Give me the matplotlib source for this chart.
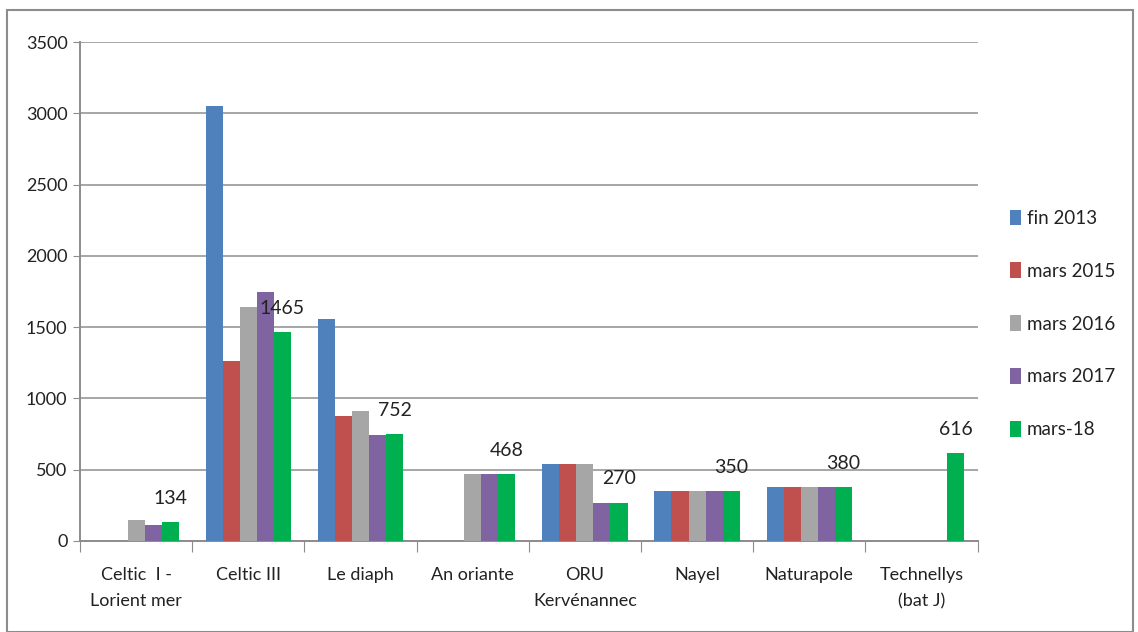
"""Grouped bars per site, five survey dates, labels on the latest one."""
import matplotlib

matplotlib.use("Agg")
import matplotlib.pyplot as plt
import numpy as np
from matplotlib.patches import Rectangle

plt.rcParams["font.family"] = ["Lato", "DejaVu Sans"]

SITES = ["Celtic  I -\nLorient mer", "Celtic III", "Le diaph", "An oriante",
         "ORU\nKervénannec", "Nayel", "Naturapole", "Technellys\n(bat J)"]
SERIES = ["fin 2013", "mars 2015", "mars 2016", "mars 2017", "mars-18"]
COLORS = ["#4F81BD", "#C0504D", "#A6A6A6", "#8064A2", "#00B050"]

nan = np.nan
fin_2013 = [nan, 3050, 1555, nan, 540, 350, 380, nan]
mars_2015 = [nan, 1260, 880, nan, 540, 350, 380, nan]
mars_2016 = [145, 1640, 910, 468, 540, 350, 380, nan]
mars_2017 = [115, 1750, 740, 468, 270, 350, 380, nan]
mars_18 = [134, 1465, 752, 468, 270, 350, 380, 616]
VALUES = [fin_2013, mars_2015, mars_2016, mars_2017, mars_18]

fig = plt.figure(figsize=(11.38, 6.32), dpi=100)
fig.patches.append(Rectangle((0.006, 0.0), 0.99, 0.984, transform=fig.transFigure,
                             fill=False, edgecolor="#8c8c8c", linewidth=1.5))
ax = fig.add_axes([0.0703, 0.144, 0.7887, 0.7895])

x = np.arange(len(SITES))
w = 0.152
for i, (vals, name, col) in enumerate(zip(VALUES, SERIES, COLORS)):
    pos = x + (i - 2) * w
    ax.bar(pos, vals, width=w, color=col, label=name, zorder=3)

for xi, v in zip(x + 2 * w, mars_18):
    ax.annotate(f"{v}", (xi, v), xytext=(0, 11), textcoords="offset points",
                ha="center", va="bottom", fontsize=14, color="#222222", zorder=4)

ax.set_xlim(-0.5, len(SITES) - 0.5)
ax.set_ylim(0, 3500)
ax.set_yticks(range(0, 3501, 500))
ax.tick_params(axis="y", labelsize=13, length=5, color="#8c8c8c", pad=4,
               labelcolor="#222222")
ax.yaxis.grid(True, color="#a6a6a6", linewidth=1.4, zorder=0)

ax.set_xticks(np.arange(len(SITES) + 1) - 0.5)
ax.set_xticklabels([])
ax.set_xticks(x, minor=True)
ax.set_xticklabels(SITES, minor=True, fontsize=13, linespacing=1.75,
                   color="#222222")
ax.tick_params(axis="x", which="major", length=8, color="#8c8c8c")
ax.tick_params(axis="x", which="minor", length=0, pad=19)

for side in ("top", "right"):
    ax.spines[side].set_visible(False)
for side in ("left", "bottom"):
    ax.spines[side].set_color("#8c8c8c")
    ax.spines[side].set_linewidth(1.4)

leg = ax.legend(loc="center left", bbox_to_anchor=(1.017, 0.435), frameon=False,
                fontsize=13.5, handlelength=0.6, handleheight=0.9, handletextpad=0.3,
                labelspacing=1.9)
for t in leg.get_texts():
    t.set_color("#222222")

fig.savefig("out.png", dpi=100)
